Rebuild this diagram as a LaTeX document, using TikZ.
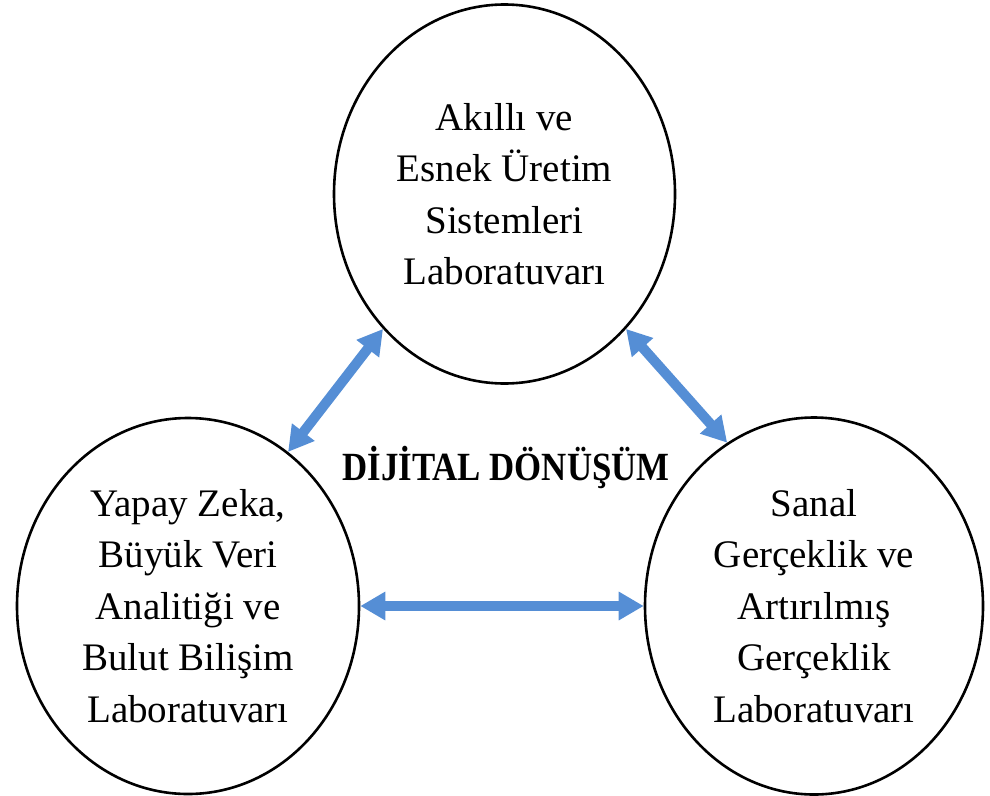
\documentclass[tikz,border=0pt]{standalone}
\usepackage{fontspec}
\setmainfont{Liberation Serif}
\usetikzlibrary{shapes.geometric,arrows.meta}
\definecolor{arrowblue}{HTML}{558ED5}
\begin{document}
\begin{tikzpicture}[x=1pt,y=-1pt,
  lab/.style={ellipse, draw, line width=2.6pt, inner sep=0pt, align=center,
    font=\fontsize{39}{51.5}\selectfont},
  link/.style={arrowblue, line width=10pt,
    {Triangle[length=25pt,width=27pt]}-{Triangle[length=25pt,width=27pt]}},
  title/.style={font=\fontsize{40}{48}\selectfont\bfseries, inner sep=0pt}]
\useasboundingbox (0,0) rectangle (990,795);
\node[lab, minimum width=341pt, minimum height=379pt] (T) at (504.5,194)
  {Akıllı ve\\Esnek Üretim\\Sistemleri\\Laboratuvarı};
\node[lab, minimum width=342pt, minimum height=376pt] (L) at (188,606)
  {Yapay Zeka,\\Büyük Veri\\Analitiği ve\\Bulut Bilişim\\Laboratuvarı};
\node[lab, minimum width=338pt, minimum height=377pt] (R) at (814,606)
  {Sanal\\Gerçeklik ve\\Artırılmış\\Gerçeklik\\Laboratuvarı};
\node[title, anchor=base] (D) at (506,480) {\scalebox{0.87}[1]{DİJİTAL DÖNÜŞÜM}};
\draw[link] (L.57) -- (T.228.4);
\draw[link] (T.312.8) -- (R.118.5);
\draw[link] (L.east) -- (R.west);
\end{tikzpicture}
\end{document}
